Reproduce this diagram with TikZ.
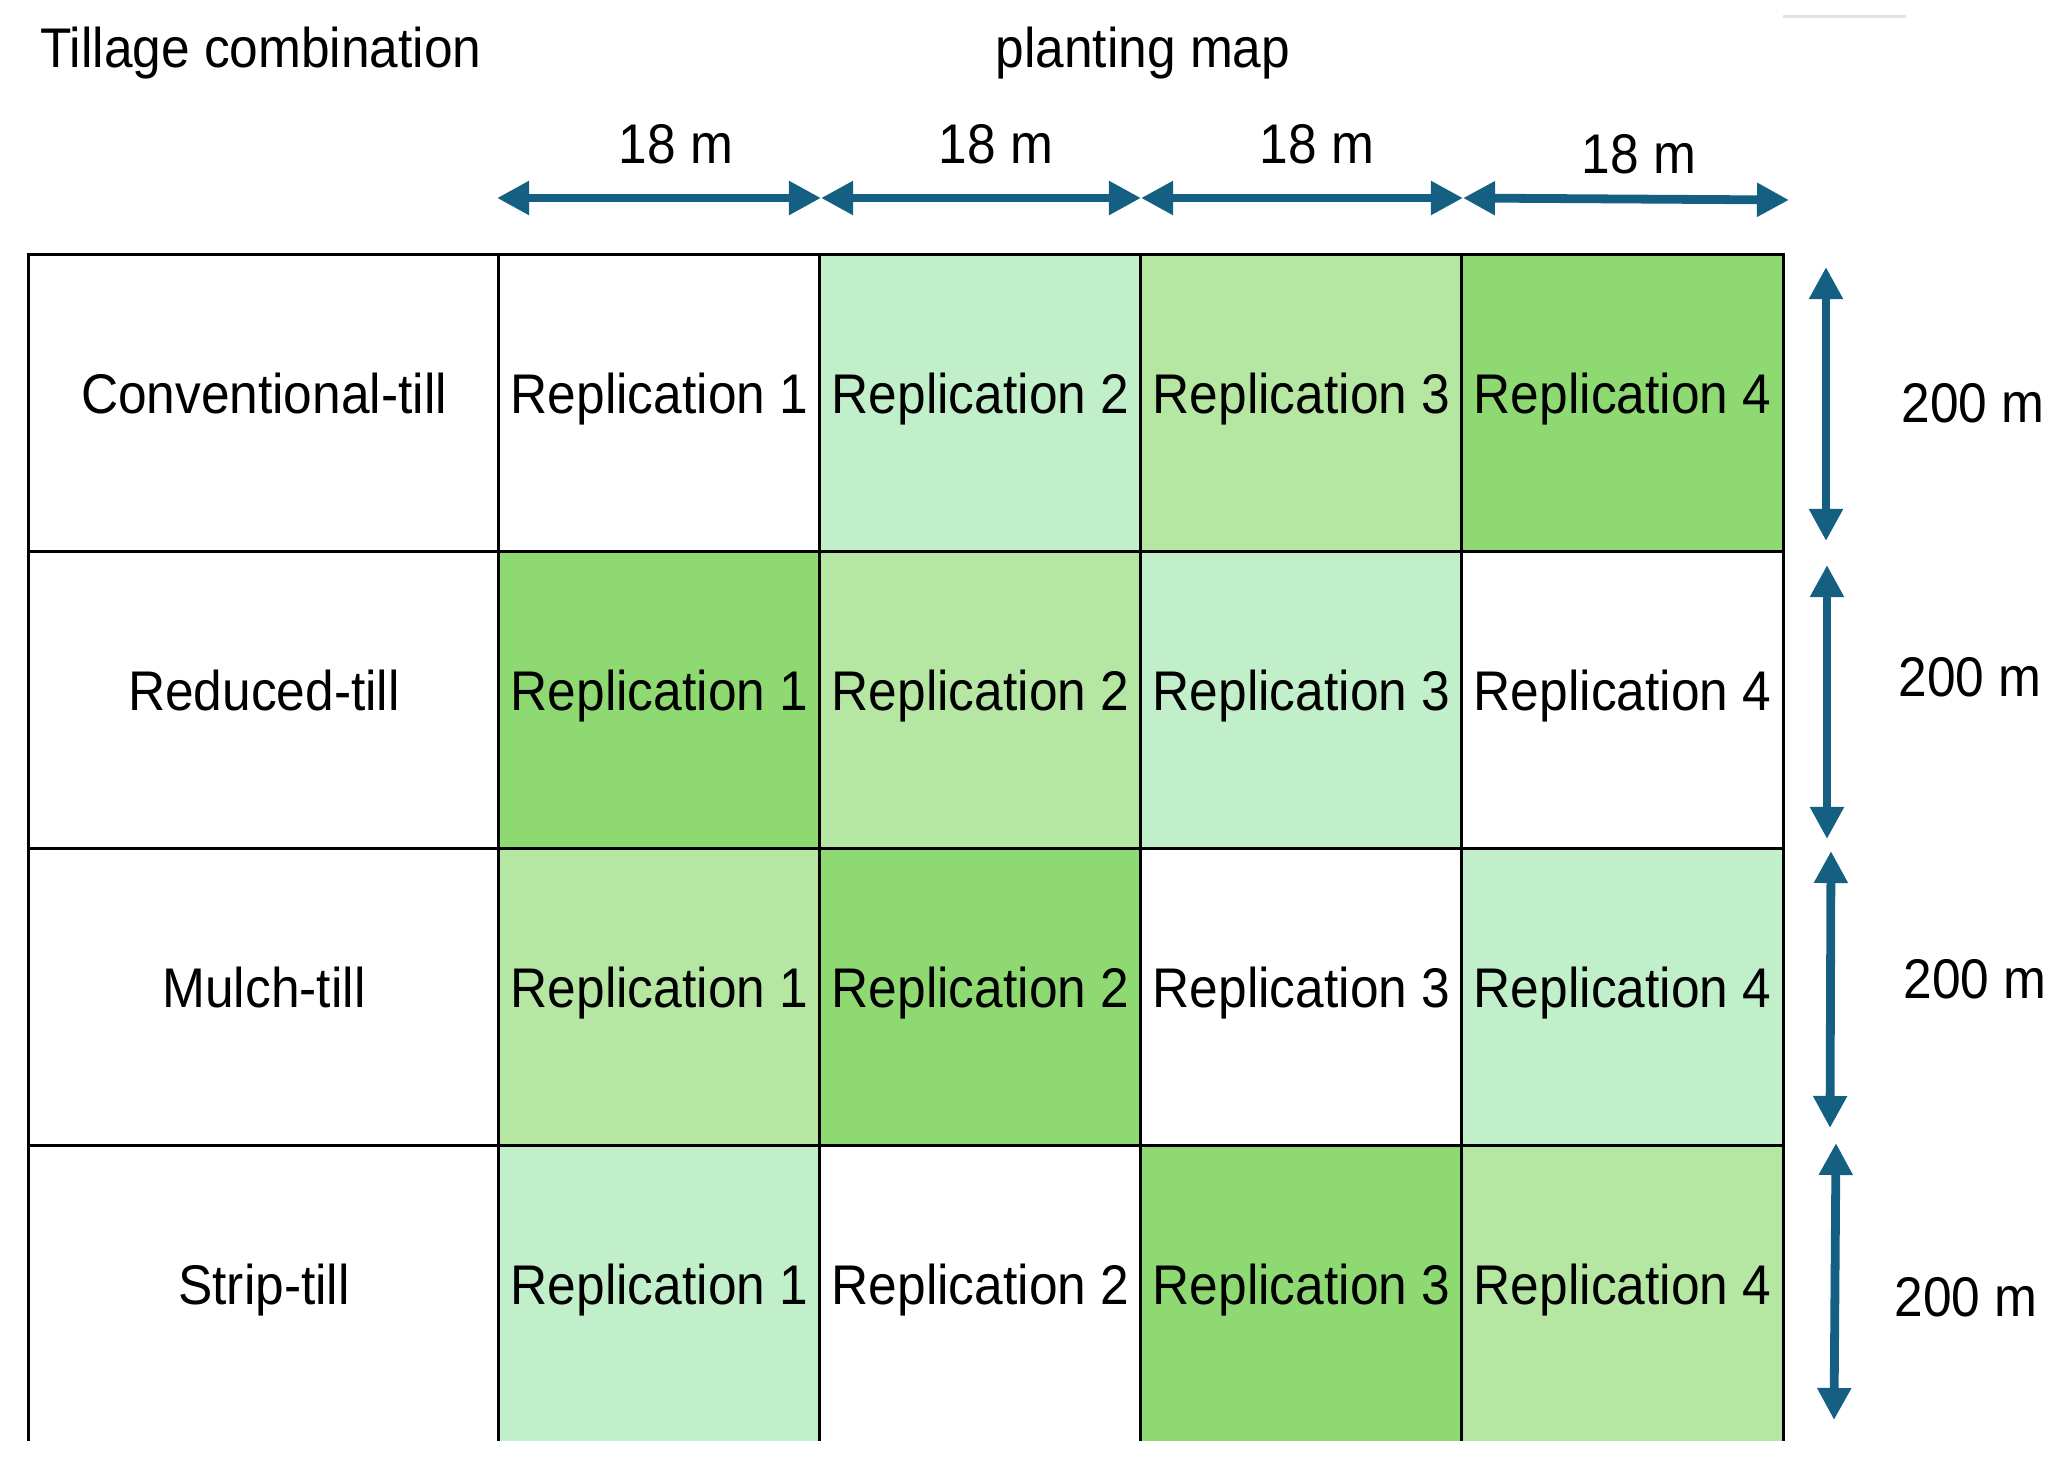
\documentclass[tikz,border=0pt]{standalone}
\usepackage{fontspec}
\setmainfont[FakeStretch=0.92]{Liberation Sans}
\usetikzlibrary{arrows.meta}

\definecolor{dimblue}{HTML}{156082}
\definecolor{repA}{HTML}{C1EFC9}
\definecolor{repB}{HTML}{B5E6A2}
\definecolor{repC}{HTML}{8FD972}

\tikzset{
  cell/.style={draw, line width=0.85pt, minimum width=3.21cm, minimum height=2.97cm,
    inner sep=0pt, text height=0.75em, text depth=0.18em,
    font=\fontsize{15.9}{19}\selectfont},
  head/.style={cell, minimum width=4.7cm},
  lab/.style={inner sep=0pt, anchor=base, font=\fontsize{15.9}{19}\selectfont},
  dim/.style={dimblue, line width=2.5pt,
    {Triangle[length=3.2mm,width=3.2mm]}-{Triangle[length=3.2mm,width=3.2mm]}},
}

\begin{document}
\begin{tikzpicture}[x=0.01cm, y=-0.01cm]
  \useasboundingbox (0,0) rectangle (2069,1475);
  % \draw[help lines] (0,0) grid[step=100] (2069,1475);

  \node[lab] (tillage) at (261,67) {Tillage combination};
  \node[lab] (plantmap) at (1143,67) {planting map};
  \draw[gray!22, line width=0.85pt] (1783,16) -- (1906,16);

  % the plots
  \foreach \r/\y/\till/\ca/\cb/\cc/\cd in {
      1/403/Conventional-till/white/repA/repB/repC,
      2/700/Reduced-till/repC/repB/repA/white,
      3/997/Mulch-till/repB/repC/white/repA,
      4/1294/Strip-till/repA/white/repC/repB}{
    \node[head] (t\r) at (264,\y) {\till};
    \node[cell, fill=\ca] (c\r1) at (659.5,\y) {Replication 1};
    \node[cell, fill=\cb] (c\r2) at (980.5,\y) {Replication 2};
    \node[cell, fill=\cc] (c\r3) at (1301.5,\y) {Replication 3};
    \node[cell, fill=\cd] (c\r4) at (1622.5,\y) {Replication 4};
  }
  % bottom edge is cut off
  \fill[white] (0,1441) rectangle (1800,1475);

  % widths
  \coordinate (h0) at (497,198);
  \coordinate (h1) at (821,198);
  \coordinate (h2) at (1141,198);
  \coordinate (h3) at (1463,198);
  \coordinate (h4) at (1789,200);
  \draw[dim] (h0) -- (h1);
  \draw[dim] (h1) -- (h2);
  \draw[dim] (h2) -- (h3);
  \draw[dim] (h3) -- (h4);
  \node[lab] (w1) at (676,163) {18 m};
  \node[lab] (w2) at (996,163) {18 m};
  \node[lab] (w3) at (1317,163) {18 m};
  \node[lab] (w4) at (1639,173) {18 m};

  % lengths
  \coordinate (v1a) at (1826,267);
  \coordinate (v1b) at (1826,541);
  \coordinate (v2a) at (1827,565);
  \coordinate (v2b) at (1827,839);
  \coordinate (v3a) at (1831,851);
  \coordinate (v3b) at (1830,1128);
  \coordinate (v4a) at (1836,1143);
  \coordinate (v4b) at (1834,1420);
  \draw[dim] (v1a) -- (v1b);
  \draw[dim] (v2a) -- (v2b);
  \draw[dim] (v3a) -- (v3b);
  \draw[dim] (v4a) -- (v4b);
  \node[lab] (l1) at (1973,422) {200 m};
  \node[lab] (l2) at (1970,696) {200 m};
  \node[lab] (l3) at (1975,998) {200 m};
  \node[lab] (l4) at (1966,1316) {200 m};
\end{tikzpicture}
\end{document}
